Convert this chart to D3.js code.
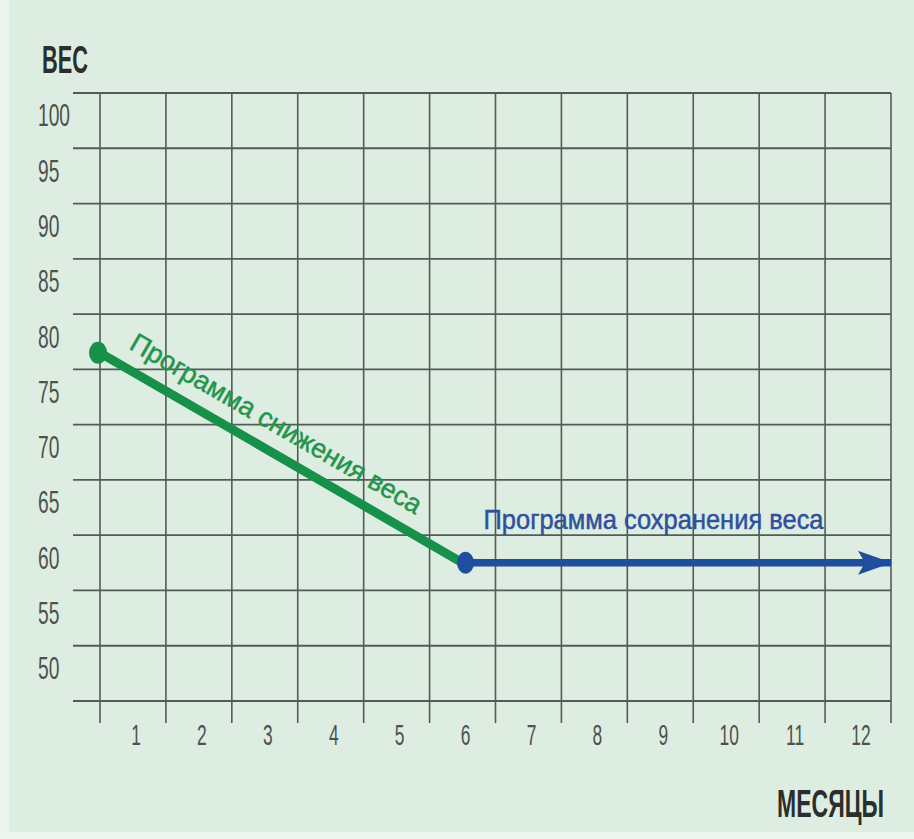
<!DOCTYPE html>
<html>
<head>
<meta charset="utf-8">
<script src="https://cdn.jsdelivr.net/npm/d3@7"></script>
<style>
  html, body { margin: 0; padding: 0; background: #deede1; }
  svg { display: block; }
</style>
</head>
<body>
<svg id="chart" width="914" height="839"></svg>
<script>
// Weight axis labels (kg) and month labels
const weightTicks = [100, 95, 90, 85, 80, 75, 70, 65, 60, 55, 50];
const monthTicks = [1, 2, 3, 4, 5, 6, 7, 8, 9, 10, 11, 12];

// Weight-loss phase: start and end of the programme
const lossMonths = [0.5, 6];
const lossWeights = [79, 60];

// Maintenance phase: weight held flat to the end of the year
const keepMonths = [6, 12.5];
const keepWeights = [60, 60];

const lossLabel = "Программа снижения веса";
const keepLabel = "Программа сохранения  веса";
const yTitle = "ВЕС";
const xTitle = "МЕСЯЦЫ";

const svg = d3.select("#chart");
const W = 914, H = 839;

// Scales: each month occupies one grid column, each 5 kg one grid row
const x = d3.scaleLinear().domain([0.5, 12.5]).range([100, 891]);
const y = d3.scaleLinear().domain([47.5, 102.5]).range([701, 93]);

// Background
svg.append("rect").attr("width", W).attr("height", H).attr("fill", "#deede1");
svg.append("rect").attr("width", 9).attr("height", H).attr("fill", "#ebf4ed");
svg.append("rect").attr("y", 832).attr("width", W).attr("height", 7).attr("fill", "#eef5f0");

const gridColor = "#525c56";
const gridLeft = 73;

// Horizontal grid lines on row boundaries
const rowBounds = d3.range(0, weightTicks.length + 1).map(i => 102.5 - 5 * i);
svg.append("g").selectAll("line").data(rowBounds).join("line")
  .attr("x1", gridLeft).attr("x2", x(12.5))
  .attr("y1", d => y(d)).attr("y2", d => y(d))
  .attr("stroke", gridColor).attr("stroke-width", 1.8);

// Vertical grid lines on column boundaries, running past the baseline as ticks
const colBounds = d3.range(0, monthTicks.length + 1).map(i => 0.5 + i);
svg.append("g").selectAll("line").data(colBounds).join("line")
  .attr("x1", d => x(d)).attr("x2", d => x(d))
  .attr("y1", y(102.5)).attr("y2", y(47.5) + 22)
  .attr("stroke", gridColor).attr("stroke-width", 1.6);

// Weight labels, condensed numerals
const labelFont = "'Liberation Sans', Arial, sans-serif";
svg.append("g").selectAll("text").data(weightTicks).join("text")
  .attr("transform", d => `translate(38,${y(d) - 5}) scale(0.62,1)`)
  .attr("dominant-baseline", "central")
  .attr("font-family", labelFont).attr("font-size", 31)
  .attr("fill", "#4c524d")
  .text(d => d);

// Month labels centred in their columns
svg.append("g").selectAll("text").data(monthTicks).join("text")
  .attr("transform", d => `translate(${x(d) + 3},${y(47.5) + 34}) scale(0.6,1)`)
  .attr("dominant-baseline", "central")
  .attr("text-anchor", "middle")
  .attr("font-family", labelFont).attr("font-size", 29)
  .attr("fill", "#4c524d")
  .text(d => d);

// Condensed bold title: squeeze horizontally to a target width
function condensedTitle(str, anchorX, baseY, anchor, width, size) {
  const t = svg.append("text")
    .attr("text-anchor", anchor)
    .attr("font-family", labelFont).attr("font-weight", "bold").attr("font-size", size)
    .attr("fill", "#2b2e2c")
    .text(str);
  const natural = t.node().getComputedTextLength();
  t.attr("transform", `translate(${anchorX},${baseY}) scale(${width / natural},1)`);
  return t;
}
condensedTitle(yTitle, 42, 73, "start", 46, 39);
condensedTitle(xTitle, 884, 817, "end", 107, 38);

// Arrowhead for the maintenance line
const blue = "#1f4f9c";
const green = "#17904a";
svg.append("defs").append("marker")
  .attr("id", "arrow")
  .attr("markerUnits", "userSpaceOnUse")
  .attr("viewBox", "0 -12 34 24")
  .attr("refX", 33).attr("refY", 0)
  .attr("markerWidth", 34).attr("markerHeight", 24)
  .attr("orient", "auto")
  .append("path")
  .attr("d", "M0,-12 L34,0 L0,12 L7,0 Z")
  .attr("fill", blue);

const lossPts = lossMonths.map((m, i) => [x(m), y(lossWeights[i])]);
const keepPts = keepMonths.map((m, i) => [x(m), y(keepWeights[i])]);
const line = d3.line();

// Weight-loss line
svg.append("path")
  .attr("d", line(lossPts))
  .attr("fill", "none").attr("stroke", green)
  .attr("stroke-width", 9).attr("stroke-linecap", "round");

// Maintenance line
svg.append("path")
  .attr("d", line(keepPts))
  .attr("fill", "none").attr("stroke", blue)
  .attr("stroke-width", 7.5)
  .attr("marker-end", "url(#arrow)");

// Start and turning-point markers
svg.append("ellipse")
  .attr("cx", lossPts[0][0] - 2).attr("cy", lossPts[0][1])
  .attr("rx", 9).attr("ry", 11).attr("fill", green);
svg.append("ellipse")
  .attr("cx", keepPts[0][0] + 3).attr("cy", keepPts[0][1])
  .attr("rx", 8.5).attr("ry", 11).attr("fill", blue);

// Label along the weight-loss line
const ang = Math.atan2(lossPts[1][1] - lossPts[0][1], lossPts[1][0] - lossPts[0][0]) * 180 / Math.PI;
svg.append("text")
  .attr("transform", `translate(${lossPts[0][0]},${lossPts[0][1]}) rotate(${ang})`)
  .attr("x", 22).attr("y", -18)
  .attr("font-family", labelFont).attr("font-size", 27)
  .attr("textLength", 332).attr("lengthAdjust", "spacingAndGlyphs")
  .attr("fill", "#23954d").attr("stroke", "#23954d").attr("stroke-width", 0.5)
  .text(lossLabel);

// Label above the maintenance line
svg.append("text")
  .attr("x", keepPts[0][0] + 21).attr("y", keepPts[0][1] - 34)
  .attr("font-family", labelFont).attr("font-size", 28)
  .attr("textLength", 340).attr("lengthAdjust", "spacingAndGlyphs")
  .attr("fill", "#2f4f9f").attr("stroke", "#2f4f9f").attr("stroke-width", 0.5)
  .text(keepLabel);
</script>
</body>
</html>
